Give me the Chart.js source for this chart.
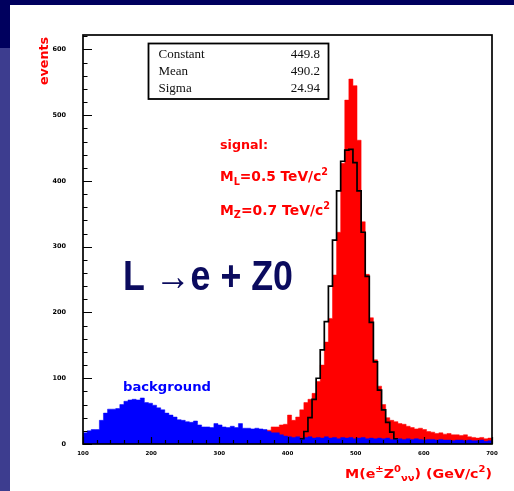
<!DOCTYPE html>
<html>
<head>
<meta charset="utf-8">
<script src="https://cdn.jsdelivr.net/npm/chart.js@4.4.1/dist/chart.umd.min.js"></script>
<style>
html,body{margin:0;padding:0;background:#fff;overflow:hidden}
#wrap{position:relative;width:514px;height:491px;background:#fff}
#topbar{position:absolute;left:0;top:0;width:514px;height:5px;background:#00005e}
#corner{position:absolute;left:0;top:0;width:10px;height:48px;background:#00005e}
#strip{position:absolute;left:0;top:48px;width:10px;height:443px;background:#3d3d8f}
#chart{position:absolute;left:0;top:0}
</style>
</head>
<body>
<div id="wrap">
  <div id="topbar"></div><div id="corner"></div><div id="strip"></div>
  <canvas id="chart" width="514" height="491"></canvas>
</div>
<script>
// histogram: 100 bins of 6 GeV from 100 to 700
const binLow = 100, binWidth = 6;
const xTicks = [100, 200, 300, 400, 500, 600, 700];
const yTicks = [0, 100, 200, 300, 400, 500, 600];

// background (blue), events per bin
const background = [
  17,20,22,22,36,47,53,53,54,60, 65,67,68,67,70,63,62,59,55,52,
  47,44,41,37,36,34,33,35,29,26, 26,25,31,29,26,25,27,25,31,24,
  24,23,24,23,22,19,17,17,14,12, 11,10,11,9,10,11,9,10,9,11,
  9,10,8,10,9,10,8,9,10,8, 9,8,9,8,9,7,8,8,7,8,
  7,8,7,6,7,7,6,7,6,6, 5,6,6,5,6,5,5,6,4,5
];

// signal (red), events per bin
const signal = [
  0,0,0,0,0,0,0,0,0,0, 0,0,0,0,0,0,0,0,0,0,
  0,0,0,0,0,0,0,0,0,0, 0,0,0,0,0,0,0,0,0,0,
  0,0,0,0,0,21,26,26,29,30, 44,36,41,52,63,68,77,95,120,155,
  191,257,322,427,523,555,545,462,338,258, 192,128,88,60,40,36,34,31,30,27,
  25,23,24,22,19,18,16,17,15,16, 14,14,13,14,11,10,9,10,8,9
];

// gaussian fit trace, starting at 418 GeV
const fitLow = 418;
const fit = [8,19,40,68,100,143,186,240,310,385,430,447,448,428,385,322,255,185,125,82,52,33,18,8];

const statNames = ["Constant", "Mean", "Sigma"];
const statValues = ["449.8", "490.2", "24.94"];

function steps(low, values){
  const pts = values.map((v,i)=>({x: low + i*binWidth, y: v}));
  pts.push({x: low + values.length*binWidth, y: values[values.length-1]});
  return pts;
}

// text with sub/superscripts: parts = [text, mode] (mode 1 sup, -1 sub)
function richWidth(ctx, parts, size, fam, weight){
  let w = 0;
  for (const [t,m] of parts){
    ctx.font = weight + " " + (m ? size*0.7 : size) + "px " + fam;
    w += ctx.measureText(t).width;
  }
  return w;
}
function drawRich(ctx, parts, x, y, o){
  const w = richWidth(ctx, parts, o.size, o.fam, o.weight);
  const sx = o.width ? o.width / w : 1;
  ctx.save();
  ctx.translate(x, y);
  if (o.rot) ctx.rotate(o.rot);
  ctx.scale(sx, 1);
  ctx.fillStyle = o.color;
  ctx.textAlign = "left";
  ctx.textBaseline = "alphabetic";
  let cx = o.align === "right" ? -w : 0;
  for (const [t,m] of parts){
    ctx.font = o.weight + " " + (m ? o.size*0.7 : o.size) + "px " + o.fam;
    const dy = m === 1 ? -o.size*0.42 : m === -1 ? o.size*0.25 : 0;
    ctx.fillText(t, cx, dy);
    cx += ctx.measureText(t).width;
  }
  ctx.restore();
}

const decor = {
  id: "decor",
  afterDraw(chart){
    const {ctx, chartArea: a, scales: {x, y}} = chart;
    ctx.save();
    ctx.strokeStyle = "#000";
    ctx.lineWidth = 1.2;
    ctx.beginPath();
    for (let v = 0; v <= 620; v += 20){
      const py = Math.round(y.getPixelForValue(v)) + 0.5;
      ctx.moveTo(a.left, py); ctx.lineTo(a.left + (v % 100 === 0 ? 9 : 4.5), py);
    }
    for (let v = 100; v <= 700; v += 20){
      const px = Math.round(x.getPixelForValue(v)) + 0.5;
      ctx.moveTo(px, a.bottom); ctx.lineTo(px, a.bottom - (v % 100 === 0 ? 7 : 4));
    }
    ctx.stroke();
    ctx.lineWidth = 1.7;
    ctx.strokeRect(a.left, a.top, a.right - a.left, a.bottom - a.top);

    // stats box
    ctx.lineWidth = 1.8;
    ctx.strokeRect(148.5, 43.5, 180, 55.5);
    const rows = [57.5, 75, 92];
    statNames.forEach((n,i)=>{
      drawRich(ctx, [[n,0]], 158.5, rows[i], {size:13, fam:"'Liberation Serif'", weight:"normal", color:"#111"});
      drawRich(ctx, [[statValues[i],0]], 320, rows[i], {size:13, fam:"'Liberation Serif'", weight:"normal", color:"#111", align:"right"});
    });

    const red = "#ff0000";
    const sans = "'DejaVu Sans'";
    drawRich(ctx, [["events",0]], 47.5, 37, {size:12.5, fam:sans, weight:"bold", color:red, width:48, align:"right", rot:-Math.PI/2});
    drawRich(ctx, [["signal:",0]], 220, 149, {size:13, fam:sans, weight:"bold", color:red, width:48});
    drawRich(ctx, [["M",0],["L",-1],["=0.5 TeV/c",0],["2",1]], 220, 181, {size:14, fam:sans, weight:"bold", color:red, width:108});
    drawRich(ctx, [["M",0],["Z",-1],["=0.7 TeV/c",0],["2",1]], 220, 214.5, {size:14, fam:sans, weight:"bold", color:red, width:110});
    drawRich(ctx, [["background",0]], 123, 391, {size:12.5, fam:sans, weight:"bold", color:"#0000ff", width:88});
    drawRich(ctx, [["M(e",0],["\u00b1",1],["Z",0],["0",1],["\u03bd\u03bd",-1],[") (GeV/c",0],["2",1],[")",0]], 492, 477.5,
      {size:13, fam:sans, weight:"bold", color:red, width:147, align:"right"});
    drawRich(ctx, [["L \u2192e + Z0",0]], 123, 290, {size:42, fam:"'Liberation Sans'", weight:"bold", color:"#0b0b5e", width:170});
    ctx.restore();
  }
};

new Chart(document.getElementById("chart"), {
  type: "line",
  data: {
    datasets: [
      {data: steps(fitLow, fit), stepped: true, fill: false, borderColor: "#000", borderWidth: 1.7, pointRadius: 0, order: 0},
      {data: steps(binLow, background), stepped: true, fill: "origin", backgroundColor: "#0000ff", borderColor: "#0000ff", borderWidth: 0.5, pointRadius: 0, order: 1},
      {data: steps(binLow, signal), stepped: true, fill: "origin", backgroundColor: "#ff0000", borderColor: "#ff0000", borderWidth: 0.5, pointRadius: 0, order: 2}
    ]
  },
  options: {
    responsive: false,
    animation: false,
    devicePixelRatio: 1,
    layout: {padding: {top: 35, right: 22, left: 0, bottom: 0}},
    plugins: {legend: {display: false}, tooltip: {enabled: false}},
    scales: {
      x: {
        type: "linear", min: 100, max: 700,
        afterBuildTicks: s => { s.ticks = xTicks.map(v => ({value: v})); },
        afterFit: s => { s.height = 47; },
        ticks: {font: {size: 5.5, weight: "bold", family: "'DejaVu Sans'"}, color: "#000", padding: 6, maxRotation: 0, autoSkip: false},
        grid: {display: false, drawTicks: false},
        border: {display: false}
      },
      y: {
        type: "linear", min: 0, max: 622,
        afterBuildTicks: s => { s.ticks = yTicks.map(v => ({value: v})); },
        afterFit: s => { s.width = 83; },
        ticks: {font: {size: 6.5, weight: "bold", family: "'DejaVu Sans'"}, color: "#000", padding: 17},
        grid: {display: false, drawTicks: false},
        border: {display: false}
      }
    }
  },
  plugins: [decor]
});
</script>
</body>
</html>
